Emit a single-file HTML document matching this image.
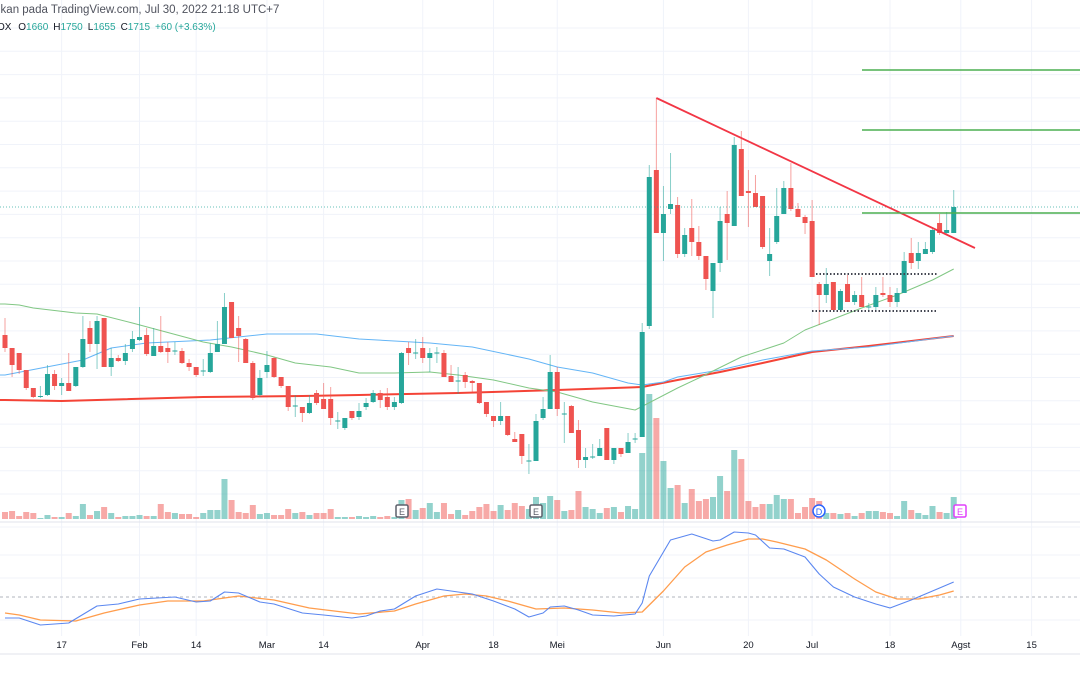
<!DOCTYPE html>
<html><head><meta charset="utf-8"><style>
html,body{margin:0;padding:0;background:#fff;}
svg{display:block;font-family:"Liberation Sans",sans-serif;}
</style></head><body>
<svg id="chart" width="1080" height="675" viewBox="0 0 1080 675" xmlns="http://www.w3.org/2000/svg">
<rect width="1080" height="675" fill="#fff"/>
<g id="grid"></g>
<g id="vol"></g>
<g id="ma"></g>
<g id="candles"></g>
<g id="draw"></g>
<g id="osc"></g>
<g id="xaxis"></g>
<text x="-2" y="13" font-size="11.5" fill="#50535e">ikan pada TradingView.com, Jul 30, 2022 21:18 UTC+7</text>
<text x="-3" y="30" font-size="10" fill="#131722">OX <tspan dx="4">O</tspan><tspan fill="#26a69a">1660</tspan><tspan dx="5">H</tspan><tspan fill="#26a69a">1750</tspan><tspan dx="5">L</tspan><tspan fill="#26a69a">1655</tspan><tspan dx="5">C</tspan><tspan fill="#26a69a">1715</tspan><tspan dx="5" fill="#26a69a">+60 (+3.63%)</tspan></text>
</svg>
<script>
const opens=[1459,1433,1423,1389,1353,1335,1339,1381,1357,1363,1357,1395,1473,1441,1493,1395,1413,1407,1431,1449,1459,1417,1437,1433,1427,1427,1403,1395,1387,1385,1425,1441,1525,1473,1451,1403,1339,1385,1413,1375,1357,1317,1315,1303,1343,1331,1331,1287,1273,1307,1295,1315,1325,1343,1335,1315,1323,1433,1423,1433,1413,1423,1423,1377,1367,1379,1367,1363,1325,1297,1287,1297,1251,1261,1207,1207,1293,1311,1385,1301,1317,1269,1209,1215,1217,1273,1209,1233,1223,1251,1255,1477,1789,1663,1711,1719,1621,1673,1645,1617,1547,1603,1701,1677,1831,1747,1743,1737,1607,1645,1701,1753,1711,1695,1687,1561,1539,1565,1509,1561,1525,1539,1515,1515,1543,1539,1525,1543,1623,1607,1621,1625,1683,1663,1663];
const closes=[1433,1399,1389,1353,1335,1337,1381,1357,1363,1347,1395,1451,1441,1487,1395,1413,1407,1423,1451,1455,1421,1437,1425,1425,1428,1403,1395,1379,1388,1423,1441,1515,1453,1457,1403,1333,1373,1399,1375,1357,1315,1318,1303,1323,1323,1311,1293,1288,1293,1293,1307,1323,1343,1329,1315,1325,1423,1423,1424,1413,1423,1424,1375,1365,1368,1365,1363,1323,1301,1287,1297,1259,1245,1217,1208,1287,1311,1385,1311,1302,1263,1209,1215,1216,1233,1209,1233,1221,1245,1252,1465,1775,1663,1701,1721,1621,1659,1645,1617,1571,1603,1687,1683,1839,1737,1743,1715,1635,1621,1697,1753,1711,1695,1683,1575,1539,1561,1509,1547,1525,1539,1515,1516,1539,1539,1525,1543,1607,1603,1623,1631,1669,1663,1669,1715];
const highs=[1493,1433,1423,1389,1353,1357,1399,1389,1373,1423,1395,1497,1487,1497,1493,1433,1419,1441,1467,1515,1473,1473,1497,1445,1445,1433,1411,1395,1411,1443,1487,1543,1525,1497,1453,1407,1389,1427,1415,1375,1357,1339,1315,1339,1349,1363,1355,1305,1293,1307,1323,1333,1349,1349,1353,1335,1425,1445,1451,1455,1433,1435,1429,1399,1395,1385,1369,1363,1325,1297,1325,1297,1265,1261,1241,1301,1335,1419,1395,1325,1319,1289,1233,1241,1251,1273,1233,1233,1263,1263,1483,1799,1933,1757,1823,1735,1673,1731,1677,1617,1603,1715,1747,1855,1867,1789,1779,1737,1673,1753,1767,1803,1723,1699,1729,1565,1593,1565,1551,1579,1547,1575,1523,1555,1575,1555,1553,1625,1653,1645,1645,1675,1701,1705,1749];
const lows=[1425,1375,1381,1349,1333,1333,1337,1349,1339,1347,1355,1393,1425,1391,1395,1377,1405,1399,1425,1447,1417,1417,1423,1403,1419,1401,1387,1375,1377,1383,1425,1441,1453,1405,1403,1329,1335,1373,1373,1353,1307,1295,1285,1301,1319,1311,1279,1271,1269,1289,1289,1309,1323,1313,1309,1309,1321,1399,1411,1403,1385,1403,1375,1365,1341,1353,1345,1321,1295,1275,1279,1257,1245,1201,1181,1207,1289,1311,1297,1243,1263,1193,1193,1211,1217,1209,1201,1215,1223,1243,1255,1471,1663,1607,1701,1613,1615,1617,1609,1549,1493,1585,1609,1677,1737,1675,1715,1631,1577,1641,1701,1707,1695,1661,1575,1479,1523,1509,1505,1525,1519,1515,1505,1509,1535,1515,1515,1543,1591,1591,1621,1621,1659,1659,1663];
const volumes=[7,8,3,7,6,1,4,2,2,6,3,15,4,8,12,6,2,3,3,4,3,3,15,7,6,5,5,2,6,9,9,40,19,7,6,14,5,6,4,4,10,6,7,4,6,6,10,2,2,2,3,2,3,2,3,2,19,20,9,11,16,7,16,5,9,4,8,12,15,8,14,9,16,13,10,22,16,23,19,8,9,28,12,10,6,11,12,7,13,10,66,125,101,58,31,34,16,30,18,20,22,43,28,69,60,18,12,15,15,24,20,20,6,12,21,18,6,6,5,6,3,6,8,8,7,6,3,18,9,6,4,13,7,6,22];
const ma20=[[0,1521],[2,1519],[4,1513],[10,1503],[13,1501],[18,1483],[28,1445],[32,1435],[37,1419],[41,1403],[46,1395],[50,1383],[55,1383],[60,1385],[64,1379],[69,1369],[74,1353],[78,1345],[83,1325],[89,1309],[95,1353],[98,1373],[104,1415],[110,1443],[113,1469],[121,1513],[126,1539],[131,1569],[134,1591]];
const ma50=[[0,1379],[11,1409],[15,1433],[20,1443],[29,1449],[37,1461],[44,1461],[50,1451],[60,1443],[66,1435],[74,1411],[78,1395],[83,1383],[88,1363],[90,1359],[93,1365],[95,1375],[101,1389],[107,1409],[114,1427],[122,1435],[134,1457]];
const ma200=[[0,1329],[8,1327],[28,1335],[42,1337],[50,1339],[64,1343],[78,1349],[90,1355],[95,1369],[101,1385],[107,1403],[114,1425],[122,1437],[134,1457]];
const oscK=[[0,32],[2,32],[5,25],[9,27],[13,44],[16,46],[19,51],[24,53],[27,48],[29,49],[31,58],[33,57],[36,48],[38,46],[42,37],[45,35],[49,32],[51,34],[53,39],[55,41],[58,54],[61,61],[64,58],[66,56],[69,49],[72,41],[74,33],[76,37],[77,43],[79,44],[81,40],[83,35],[86,34],[89,36],[90,47],[91,74],[94,110],[97,116],[100,109],[101,110],[103,118],[105,117],[106,115],[108,102],[110,101],[113,93],[115,76],[117,63],[120,53],[123,46],[125,42],[128,50],[132,62],[134,68]];
const oscD=[[0,37],[2,35],[5,30],[10,29],[14,37],[19,45],[23,49],[28,49],[33,54],[38,50],[43,42],[50,36],[55,39],[58,46],[62,54],[65,56],[68,54],[71,49],[75,41],[79,42],[83,40],[87,37],[90,38],[93,59],[96,83],[99,98],[102,105],[105,111],[107,111],[109,108],[113,101],[116,90],[120,71],[123,58],[126,51],[129,51],[132,55],[134,59]];
const dateLabels=["17","Feb","14","Mar","14","Apr","18","Mei","Jun","20","Jul","18","Agst","15"];
const dateIdx=[8,19,27,37,45,59,69,78,93,105,114,125,135,145];
const trendPrices=[1933,1633];
const trendIdx=[92,137];
const targetPrices=[1989,1869,1703];
const rangePrices=[1581,1507];

const NS="http://www.w3.org/2000/svg";
const X=i=>5+i*7.08;
const Y=p=>(2129-p)/2;
const YV=v=>519-v;
const YO=v=>650-v;
function mk(tag,parent,attrs){const e=document.createElementNS(NS,tag);for(const k in attrs)e.setAttribute(k,attrs[k]);parent.appendChild(e);return e;}
const G=id=>document.getElementById(id);

// grid
const grid=G('grid');
for(let y=28;y<=500;y+=23.3){const l=mk('line',grid,{x1:0,x2:1080,y1:y,y2:y,stroke:'#f0f3fa'});

}
[527,555,578,620].forEach(y=>{const l=mk('line',grid,{x1:0,x2:1080,y1:y,y2:y,stroke:'#f0f3fa'});

});
dateIdx.forEach(i=>{const l=mk('line',grid,{x1:X(i),x2:X(i),y1:0,y2:636,stroke:'#f0f3fa'});

});
let sep=mk('line',grid,{x1:0,x2:1080,y1:522,y2:522,stroke:'#e0e3eb'});


let sep2=mk('line',grid,{x1:0,x2:1080,y1:654,y2:654,stroke:'#e0e3eb'});



// volume
const vg=G('vol');
volumes.forEach((v,i)=>{const up=closes[i]>=opens[i];
const r=mk('rect',vg,{x:X(i)-3,y:YV(v),width:6,height:519-YV(v),fill:up?'#26a69a':'#ef5350','fill-opacity':0.5});

});

// MAs
const mag=G('ma');
function pline(parent,pts,fx,fy,stroke,w,name){const d=pts.map((p,k)=>(k?'L':'M')+fx(p[0]).toFixed(1)+' '+fy(p[1]).toFixed(1)).join(' ');
const p=mk('path',parent,{d:d,fill:'none',stroke:stroke,'stroke-width':w,'stroke-linejoin':'round'});

return p;}
pline(mag,[[-1,ma200[0][1]]].concat(ma200),X,Y,'#f44336',2,'ma200-line');
pline(mag,[[-1,ma50[0][1]]].concat(ma50),X,Y,'#64b5f6',1,'ma50-line');
pline(mag,[[-1,ma20[0][1]]].concat(ma20),X,Y,'#81c784',1,'ma20-line');

// candles
const cg=G('candles');
opens.forEach((o,i)=>{const c=closes[i],up=c>=o,col=up?'#26a69a':'#ef5350';
const w=mk('line',cg,{x1:X(i),x2:X(i),y1:Y(highs[i]),y2:Y(lows[i]),stroke:col,'stroke-opacity':0.55});


const top=Y(Math.max(o,c)),h=Math.max(1,Math.abs(Y(o)-Y(c)));
const b=mk('rect',cg,{x:X(i)-2.5,y:top,width:5,height:h,fill:col});

});

// drawings
const dg=G('draw');
let cp=mk('line',dg,{x1:0,x2:1080,y1:Y(closes[closes.length-1]),y2:Y(closes[closes.length-1]),stroke:'#26a69a','stroke-dasharray':'1 2','stroke-opacity':0.7});


let tl=mk('line',dg,{x1:X(trendIdx[0]),y1:Y(trendPrices[0]),x2:X(trendIdx[1]),y2:Y(trendPrices[1]),stroke:'#f23645','stroke-width':1.8});


targetPrices.forEach(p=>{const l=mk('line',dg,{x1:862,x2:1080,y1:Y(p),y2:Y(p),stroke:'#4caf50','stroke-width':1.6});

});
rangePrices.forEach((p,k)=>{const l=mk('line',dg,{x1:k?812:816,x2:938,y1:Y(p),y2:Y(p),stroke:'#434651','stroke-width':2,'stroke-dasharray':'1.5 2'});

});
function marker(x,label,stroke,fill,circle,name){const g=mk('g',dg,{});


if(circle)mk('circle',g,{cx:x,cy:511,r:6,fill:'#fff',stroke:stroke,'stroke-width':1.5});
else mk('rect',g,{x:x-6,y:505,width:12,height:12,rx:1.5,fill:'#fff',stroke:stroke,'stroke-width':1.5});
const t=mk('text',g,{x:x,y:515,'font-size':9,'text-anchor':'middle',fill:fill});t.textContent=label;}
marker(402,'E','#5d606b','#5d606b',false,'earnings-marker');
marker(536,'E','#5d606b','#5d606b',false,'earnings-marker');
marker(819,'D','#2962ff','#2962ff',true,'dividend-marker');
marker(960,'E','#e040fb','#e040fb',false,'earnings-marker');

// oscillator
const og=G('osc');
let mid=mk('line',og,{x1:0,x2:1080,y1:597,y2:597,stroke:'#b2b5be','stroke-dasharray':'3 3'});


pline(og,oscD,X,YO,'#ff9d4d',1.3,'osc-signal-line');
pline(og,oscK,X,YO,'#5b87f0',1.1,'osc-main-line');

// x axis
const xg=G('xaxis');
dateLabels.forEach((s,k)=>{const t=mk('text',xg,{x:X(dateIdx[k]),y:648,'font-size':9.5,'text-anchor':'middle',fill:'#131722'});
t.textContent=s;

});
</script>
</body></html>
